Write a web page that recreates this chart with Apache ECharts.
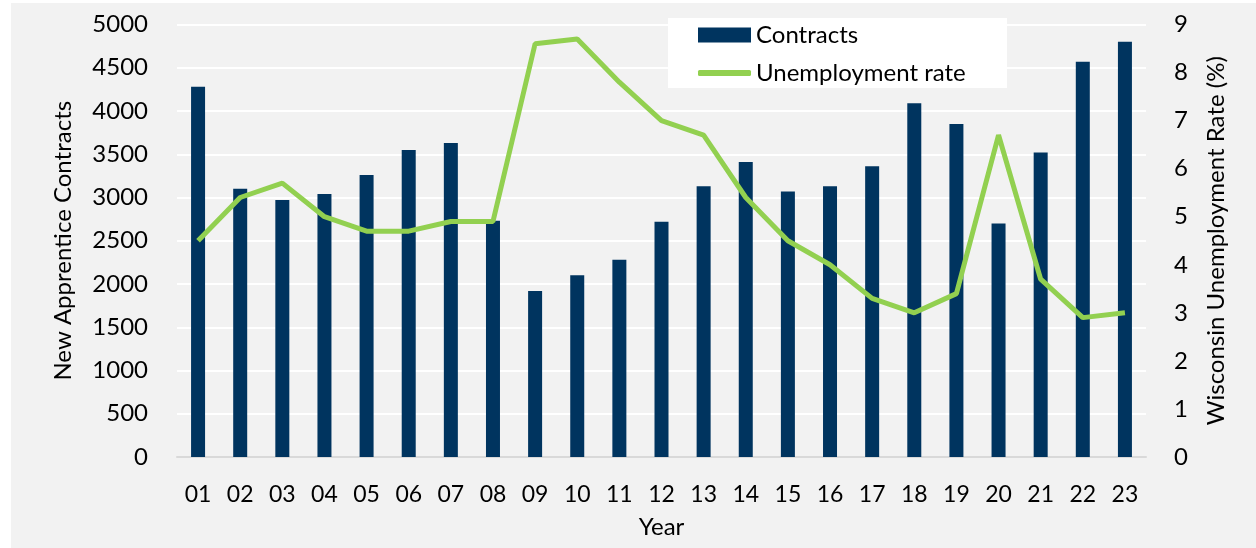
<!DOCTYPE html>
<html>
<head>
<meta charset="utf-8">
<script src="https://cdn.jsdelivr.net/npm/echarts@6/dist/echarts.min.js"></script>
<style>
html, body { margin: 0; padding: 0; background: #fff; }
#chart { width: 1256px; height: 548px; }
</style>
</head>
<body>
<div id="chart"></div>
<script>
var years = ['01','02','03','04','05','06','07','08','09','10','11','12','13','14','15','16','17','18','19','20','21','22','23'];
var contracts = [4280, 3100, 2970, 3040, 3260, 3550, 3630, 2730, 1920, 2100, 2280, 2720, 3130, 3410, 3070, 3130, 3360, 4090, 3850, 2700, 3520, 4570, 4800];
var unemployment = [4.5, 5.4, 5.7, 5.0, 4.7, 4.7, 4.9, 4.9, 8.6, 8.7, 7.8, 7.0, 6.7, 5.4, 4.5, 4.0, 3.3, 3.0, 3.4, 6.7, 3.7, 2.9, 3.0];

var FONT = 'Lato';
var myChart = echarts.init(document.getElementById('chart'));

var legendText = { fontFamily: FONT, fontSize: 24, color: '#000' };

myChart.setOption({
    backgroundColor: '#ffffff',
    textStyle: { fontFamily: FONT, color: '#000' },
    graphic: [{
        type: 'rect',
        z: -10,
        shape: { x: 11, y: 3, width: 1245, height: 545 },
        style: { fill: '#f2f2f2' }
    }, {
        type: 'rect',
        z: 0,
        shape: { x: 668, y: 18, width: 339, height: 70 },
        style: { fill: '#ffffff' }
    }],
    legend: [{
        left: 693,
        top: 18,
        itemWidth: 53,
        itemHeight: 15,
        z: 5,
        textStyle: legendText,
        data: [{ name: 'Contracts', icon: 'rect' }]
    }, {
        left: 693,
        top: 56,
        itemWidth: 53,
        itemHeight: 6,
        z: 5,
        textStyle: legendText,
        data: [{ name: 'Unemployment rate', icon: 'roundRect' }]
    }],
    grid: { left: 177, right: 110, top: 24.5, bottom: 91 },
    xAxis: {
        type: 'category',
        data: years,
        name: 'Year',
        nameLocation: 'middle',
        nameGap: 58,
        nameTextStyle: { fontFamily: FONT, fontSize: 24, color: '#000' },
        axisLine: { lineStyle: { color: '#d9d9d9', width: 2 } },
        axisTick: { show: false },
        axisLabel: { fontFamily: FONT, fontSize: 23, color: '#000', margin: 26 }
    },
    yAxis: [{
        type: 'value',
        min: 0,
        max: 5000,
        interval: 500,
        name: 'New Apprentice Contracts',
        nameLocation: 'middle',
        nameGap: 102,
        nameTextStyle: { fontFamily: FONT, fontSize: 24, color: '#000' },
        axisLine: { show: false },
        axisTick: { show: false },
        axisLabel: {
            fontFamily: FONT, fontSize: 24, color: '#000', margin: 29,
            formatter: function (v) { return String(v); }
        },
        splitLine: { lineStyle: { color: '#ffffff', width: 2 } }
    }, {
        type: 'value',
        min: 0,
        max: 9,
        interval: 1,
        name: 'Wisconsin Unemployment Rate (%)',
        nameLocation: 'middle',
        nameGap: 58,
        nameTextStyle: { fontFamily: FONT, fontSize: 24, color: '#000' },
        axisLine: { show: false },
        axisTick: { show: false },
        axisLabel: { fontFamily: FONT, fontSize: 24, color: '#000', margin: 28 },
        splitLine: { show: false }
    }],
    series: [{
        name: 'Contracts',
        type: 'bar',
        data: contracts,
        barWidth: 14,
        itemStyle: { color: '#00345f' }
    }, {
        name: 'Unemployment rate',
        type: 'line',
        yAxisIndex: 1,
        data: unemployment,
        symbol: 'none',
        lineStyle: { color: '#92d050', width: 5 },
        itemStyle: { color: '#92d050' }
    }]
});
</script>
</body>
</html>
